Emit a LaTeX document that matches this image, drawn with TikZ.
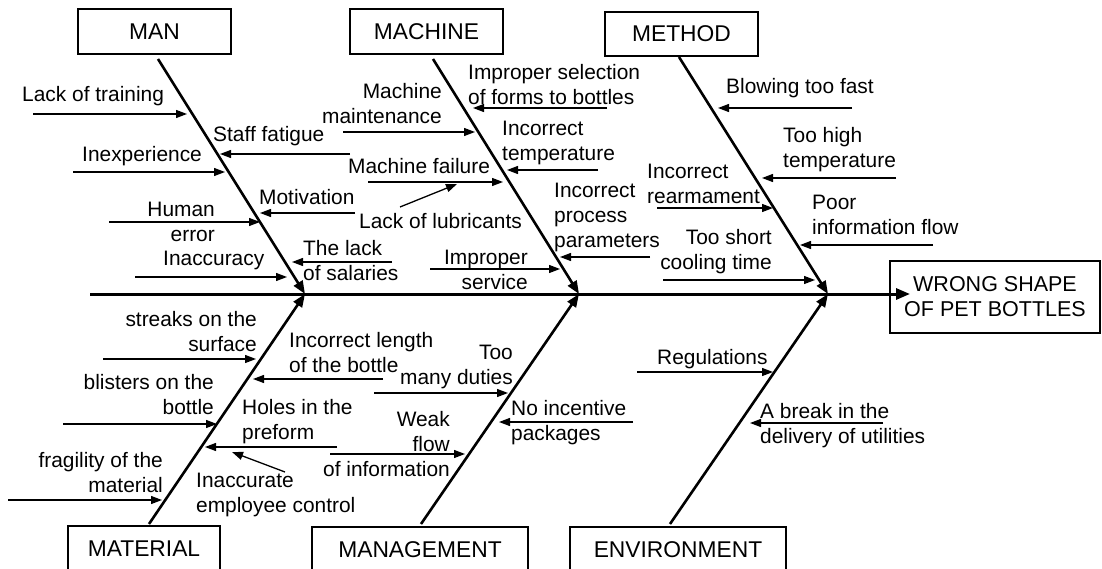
\documentclass[tikz,border=0pt]{standalone}
\usepackage{fontspec}
\setmainfont{Liberation Sans}
\usetikzlibrary{arrows.meta}
\newcommand{\sarrow}[5]{\coordinate (#1s) at (#2,#3); \coordinate (#1e) at (#4,#5); \draw[subarrow] (#1s) -- (#1e);}
\begin{document}
\begin{tikzpicture}[x=1pt,y=-1pt,
  lbl/.style={inner sep=0pt, font=\fontsize{20.9}{25}\selectfont},
  cat/.style={draw, line width=1.3pt, minimum width=153pt, minimum height=45pt, inner sep=0pt, font=\fontsize{22.8}{27}\selectfont},
  subarrow/.style={line width=1.3pt, -{Triangle[length=11pt,width=8pt]}},
  bone/.style={line width=2.6pt, -{Triangle[length=13pt,width=10pt]}},
  spine/.style={line width=3pt, -{Triangle[length=14pt,width=11pt]}}]
\fill[white] (0,0) rectangle (1102,569);
\useasboundingbox (0,0) rectangle (1102,569);

% category boxes
\node[cat] (man) at (154.5,31.5) {MAN};
\node[cat] (machine) at (426.5,31.5) {MACHINE};
\node[cat, minimum height=44pt] (method) at (681.5,34) {METHOD};
\node[cat, minimum width=152pt, minimum height=46pt] (material) at (144,549) {MATERIAL};
\node[cat, minimum width=216pt, minimum height=46pt] (management) at (420,550) {MANAGEMENT};
\node[cat, minimum width=216pt, minimum height=46pt] (environment) at (678,550) {ENVIRONMENT};
\node[draw, line width=1.3pt, minimum width=210pt, minimum height=72pt, inner sep=0pt, align=center,
  font=\fontsize{21.5}{25}\selectfont] (effect) at (995,297) {WRONG SHAPE\\OF PET BOTTLES};

% spine
\coordinate (sp0) at (90,294);
\coordinate (sptip) at (910,294);
\draw[spine] (sp0) -- (sptip);

% junctions and bones
\coordinate (j1) at (305,294);
\coordinate (j2) at (579,294);
\coordinate (j3) at (828,294);
\coordinate (b1) at (158,59);
\coordinate (b2) at (433,59);
\coordinate (b3) at (679,57);
\coordinate (b4) at (149,524);
\coordinate (b5) at (421,524);
\coordinate (b6) at (670,524);
\draw[bone] (b1) -- (j1);
\draw[bone] (b2) -- (j2);
\draw[bone] (b3) -- (j3);
\draw[bone] (b4) -- (j1);
\draw[bone] (b5) -- (j2);
\draw[bone] (b6) -- (j3);

% MAN
\node[lbl, anchor=north west] (t1) at (22,86) {Lack of training};
\node[lbl, anchor=north west] (t2) at (82,146.5) {Inexperience};
\node[lbl, anchor=north east, align=right] (t3) at (215,201.5) {Human\\error};
\node[lbl, anchor=north west] (t4) at (163,250.5) {Inaccuracy};
\node[lbl, anchor=north west] (t5) at (213,126.5) {Staff fatigue};
\node[lbl, anchor=north west] (t6) at (259,189.5) {Motivation};
\node[lbl, anchor=north west, align=left] (t7) at (303,240.5) {The lack\\of salaries};
\sarrow{a1}{33}{114}{187}{114}
\sarrow{a2}{73}{172}{225}{172}
\sarrow{a3}{109}{222}{260}{222}
\sarrow{a4}{135}{277}{287}{277}
\sarrow{a5}{350}{154}{220}{154}
\sarrow{a6}{355}{213}{260}{213}
\sarrow{a7}{392}{262}{292}{262}

% MACHINE
\node[lbl, anchor=north east, align=right] (t8) at (442,83.5) {Machine\\maintenance};
\node[lbl, anchor=north west] (t9) at (348,158.5) {Machine failure};
\node[lbl, anchor=north west] (t10) at (359,213.5) {Lack of lubricants};
\node[lbl, anchor=north east, align=right] (t11) at (528,249.5) {Improper\\service};
\node[lbl, anchor=north west, align=left] (t12) at (468,64.5) {Improper selection\\of forms to bottles};
\node[lbl, anchor=north west, align=left] (t13) at (502,120.5) {Incorrect\\temperature};
\node[lbl, anchor=north west, align=left] (t14) at (554,182.5) {Incorrect\\process\\parameters};
\sarrow{a8}{343}{132}{475}{132}
\sarrow{a9}{368}{182}{503}{182}
\sarrow{a10}{400}{207}{457}{184}
\sarrow{a11}{430}{269}{560}{269}
\sarrow{a12}{607}{108}{473}{108}
\sarrow{a13}{598}{170}{507}{170}
\sarrow{a14}{650}{257}{560}{257}

% METHOD
\node[lbl, anchor=north west, align=left] (t15) at (647,163.5) {Incorrect\\rearmament};
\node[lbl, anchor=north east, align=right] (t16) at (772,229.5) {Too short\\cooling time};
\node[lbl, anchor=north west] (t17) at (726,78.5) {Blowing too fast};
\node[lbl, anchor=north west, align=left] (t18) at (783,127.5) {Too high\\temperature};
\node[lbl, anchor=north west, align=left] (t19) at (812,194.5) {Poor\\information flow};
\sarrow{a15}{657}{208}{773}{208}
\sarrow{a16}{663}{280}{815}{280}
\sarrow{a17}{852}{108}{718}{108}
\sarrow{a18}{896}{178}{762}{178}
\sarrow{a19}{933}{245}{800}{245}

% MATERIAL
\node[lbl, anchor=north east, align=right] (t20) at (257,311.5) {streaks on the\\surface};
\node[lbl, anchor=north east, align=right] (t21) at (214,374.5) {blisters on the\\bottle};
\node[lbl, anchor=north east, align=right] (t22) at (163,452.5) {fragility of the\\material};
\node[lbl, anchor=north west, align=left] (t23) at (289,332.5) {Incorrect length\\of the bottle};
\node[lbl, anchor=north west, align=left] (t24) at (242,399.5) {Holes in the\\preform};
\node[lbl, anchor=north west, align=left] (t25) at (196,472.5) {Inaccurate\\employee control};
\sarrow{a20}{103}{359}{256}{359}
\sarrow{a21}{63}{424}{217}{424}
\sarrow{a22}{8}{500}{162}{500}
\sarrow{a23}{383}{379}{253}{379}
\sarrow{a24}{337}{447}{205}{447}
\sarrow{a25}{285}{472}{232}{452}

% MANAGEMENT
\node[lbl, anchor=north east, align=right] (t26) at (513,344.5) {Too\\many duties};
\node[lbl, anchor=north east, align=right] (t27) at (450,411.5) {Weak\\flow\\of information};
\node[lbl, anchor=north west, align=left] (t28) at (511,400.5) {No incentive\\packages};
\sarrow{a26}{374}{393}{508}{393}
\sarrow{a27}{330}{454}{465}{454}
\sarrow{a28}{633}{422}{499}{422}

% ENVIRONMENT
\node[lbl, anchor=north west] (t29) at (657,349.5) {Regulations};
\node[lbl, anchor=north west, align=left] (t30) at (760,403.5) {A break in the\\delivery of utilities};
\sarrow{a29}{637}{372}{773}{372}
\sarrow{a30}{883}{423}{750}{423}
\end{tikzpicture}
\end{document}
